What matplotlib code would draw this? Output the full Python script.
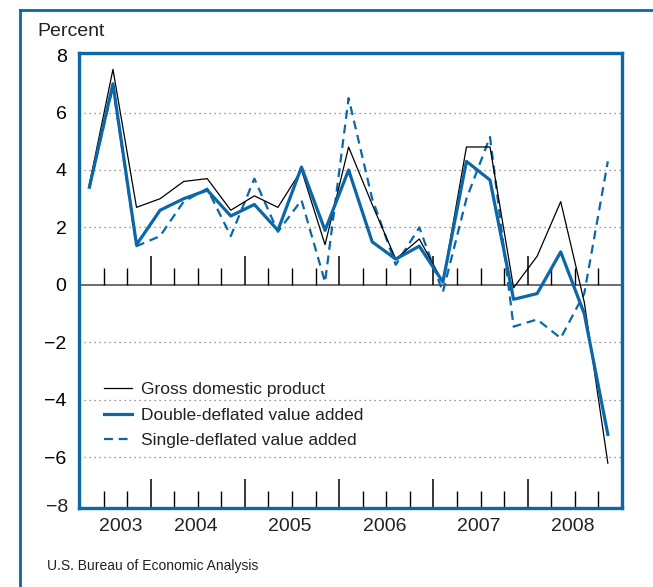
import matplotlib
matplotlib.use('Agg')
import matplotlib.pyplot as plt
from matplotlib.lines import Line2D
import numpy as np

plt.rcParams['font.family'] = ['Liberation Sans', 'DejaVu Sans']

BLUE = '#0b67a8'

# quarterly growth, 2003Q2 .. 2008Q4
years = [2003] * 3 + [2004] * 4 + [2005] * 4 + [2006] * 4 + [2007] * 4 + [2008] * 4
qtrs = [2, 3, 4] + [1, 2, 3, 4] * 5
gdp = [3.5, 7.5, 2.7, 3.0, 3.6, 3.7, 2.6, 3.1, 2.7, 4.0, 1.4, 4.8,
       2.8, 0.9, 1.6, 0.1, 4.8, 4.8, -0.1, 1.0, 2.9, -0.6, -6.2]
double_defl = [3.4, 7.0, 1.4, 2.6, 3.0, 3.3, 2.4, 2.8, 1.9, 4.1, 1.9, 4.0,
               1.5, 0.9, 1.35, 0.1, 4.3, 3.65, -0.5, -0.3, 1.15, -1.0, -5.2]
single_defl = [3.4, 6.9, 1.35, 1.7, 2.9, 3.35, 1.7, 3.7, 1.85, 2.95, 0.1, 6.5,
               3.0, 0.7, 2.0, -0.25, 3.0, 5.15, -1.45, -1.2, -1.85, -0.3, 4.3]
year_labels = ['2003', '2004', '2005', '2006', '2007', '2008']
yticks = [-6, -4, -2, 0, 2, 4, 6, 8]
ymin, ymax = -7.76, 8.07

x = np.array(years) + (np.array(qtrs) - 1) / 4 + 0.1

fig = plt.figure(figsize=(6.53, 5.87), dpi=100)
ax = fig.add_axes([0.121, 0.1346, 0.8315, 0.7751])

for v in yticks:
    if v not in (0, 8):
        ax.axhline(v, color='#777777', lw=0.9, ls=(0, (1, 3)), zorder=0)
ax.axhline(0, color='#6b6b6b', lw=1.4, zorder=1)

# tick marks sitting on the zero line
yr_bounds = np.arange(2004, 2009)
q_bounds = [b for b in np.arange(2003.5, 2009, 0.25) if b % 1 != 0]
ax.vlines(yr_bounds, 0, 1.0, color='black', lw=1.1, zorder=1)
ax.vlines(q_bounds, 0, 0.58, color='black', lw=1.0, zorder=1)

ax.plot(x, gdp, color='black', lw=0.9, label='Gross domestic product', zorder=3)
ax.plot(x, double_defl, color=BLUE, lw=2.3, label='Double-deflated value added', zorder=4)
ax.plot(x, single_defl, color=BLUE, lw=1.6, ls=(0, (4, 2.6)), label='Single-deflated value added', zorder=2)

ax.set_xlim(2003.24, 2009.0)
ax.set_ylim(ymin, ymax)
ax.set_yticks(yticks)
ax.set_yticklabels([str(v).replace('-', '\u2212') for v in yticks])
ax.tick_params(axis='y', length=0, pad=9, labelsize=14)
# bottom label sits on the lower frame
ax.text(-0.02, 0, '\u22128', transform=ax.transAxes, ha='right', va='center',
        fontsize=14, color='#222222')

ax.set_xticks(yr_bounds)
ax.set_xticks(q_bounds, minor=True)
ax.set_xticklabels([])
ax.tick_params(axis='x', which='major', direction='in', length=21, width=1.1, color='black')
ax.tick_params(axis='x', which='minor', direction='in', length=12, width=1.0, color='black')
ax.tick_params(top=False, which='both')

lab_x = [2003.68] + [int(y) + 0.48 for y in year_labels[1:]]
for lx, lab in zip(lab_x, year_labels):
    ax.text(lx, -0.022, lab, transform=ax.get_xaxis_transform(), ha='center', va='top',
            fontsize=14, color='#222222')

for s in ax.spines.values():
    s.set_color(BLUE)
    s.set_linewidth(2.4)

leg = ax.legend(loc='upper left', bbox_to_anchor=(0.0455, 0.277), frameon=False,
                fontsize=12.5, handlelength=1.65, handletextpad=0.5,
                labelspacing=0.6, borderpad=0, borderaxespad=0)
for t in leg.get_texts():
    t.set_color('#222222')

fig.text(37 / 653, 1 - 31 / 587, 'Percent', fontsize=14, ha='left', va='center', color='#222222')
fig.text(47 / 653, 1 - 566 / 587, 'U.S. Bureau of Economic Analysis', fontsize=10,
         ha='left', va='center', color='#222222')

# outer panel border
fig.add_artist(Line2D([19.5 / 653, 19.5 / 653], [0, 1 - 10 / 587], color=BLUE, lw=2,
                      transform=fig.transFigure))
fig.add_artist(Line2D([19.5 / 653, 1], [1 - 10 / 587, 1 - 10 / 587], color=BLUE, lw=2,
                      transform=fig.transFigure))

fig.savefig('out.png', dpi=100)
